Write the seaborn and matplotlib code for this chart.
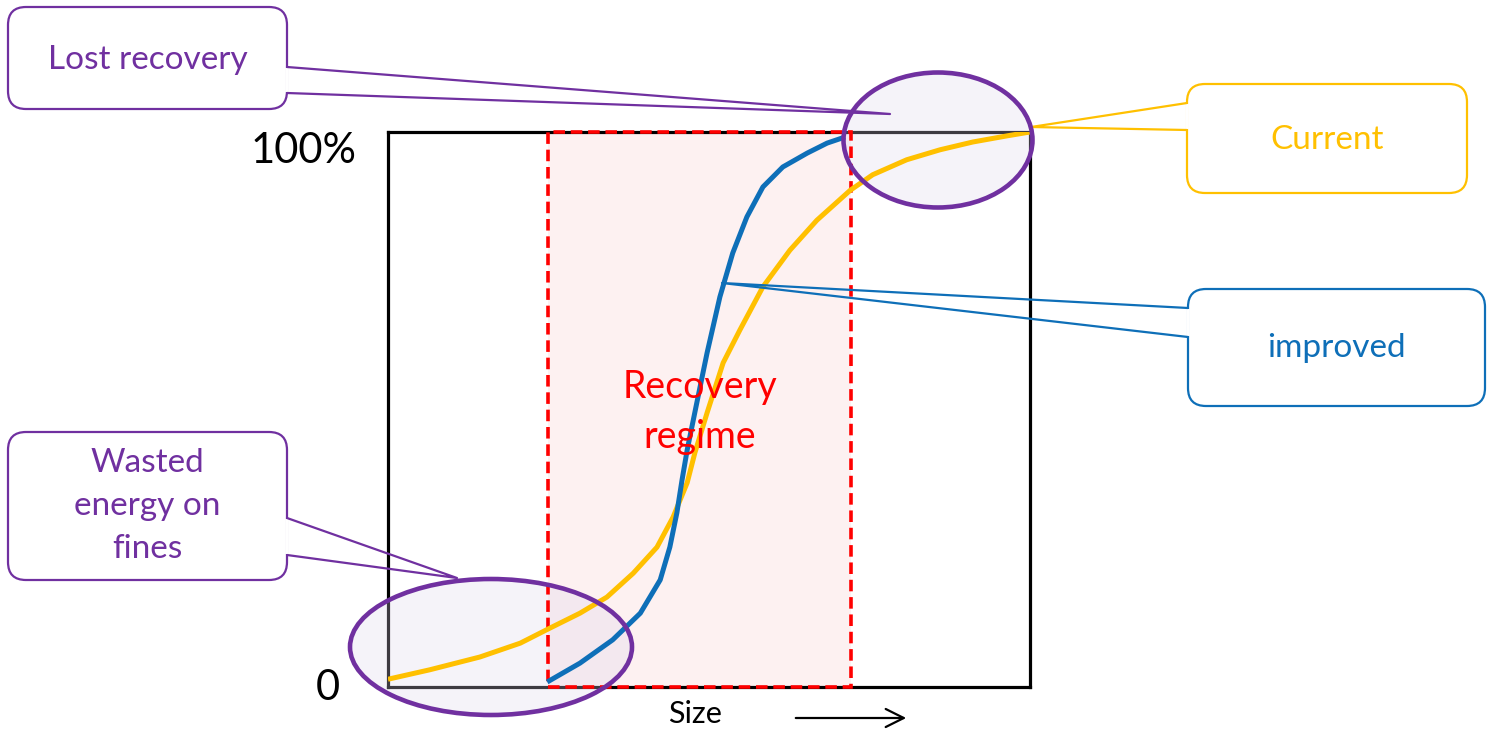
import numpy as np
import pandas as pd
import matplotlib
matplotlib.use("Agg")
import matplotlib.pyplot as plt
from matplotlib.patches import Ellipse, Rectangle, FancyBboxPatch, FancyArrowPatch
import seaborn as sns

# ---------------- data (size fraction 0..1, recovery %) ----------------
current_size = [0.0, 0.065, 0.143, 0.206, 0.252, 0.299, 0.341, 0.382, 0.419, 0.444,
                0.466, 0.478, 0.497, 0.522, 0.548, 0.584, 0.626, 0.668, 0.720, 0.755,
                0.808, 0.860, 0.911, 0.964, 1.0]
current_rec = [1.4, 3.1, 5.4, 7.9, 10.6, 13.3, 16.2, 20.5, 25.2, 30.6,
               36.8, 42.2, 49.4, 58.4, 64.3, 72.1, 78.7, 84.1, 89.5, 92.3,
               95.0, 96.8, 98.2, 99.3, 100.0]
improved_size = [0.248, 0.299, 0.350, 0.393, 0.424, 0.439, 0.450, 0.458, 0.466, 0.481,
                  0.497, 0.517, 0.537, 0.559, 0.584, 0.615, 0.653, 0.684, 0.712]
improved_rec = [0.9, 4.3, 8.5, 13.3, 19.3, 25.2, 31.4, 37.3, 42.7, 51.2,
                60.2, 70.3, 78.2, 84.7, 90.1, 93.7, 96.2, 98.0, 99.1]
regime_range = [0.249, 0.721]   # recovery regime (size fraction)
y_labels = ["0", "100%"]

YELLOW = "#FFC000"
BLUE = "#0E6FB8"
PURPLE = "#7030A0"
RED = "#FF0000"

sns.set_theme(style="white")
plt.rcParams["font.family"] = ["Lato", "DejaVu Sans"]

W, H = 1487, 731
fig = plt.figure(figsize=(W / 100, H / 100), dpi=100)
fig.patch.set_facecolor("white")

# main axes = the plot box
ax = fig.add_axes([388 / W, (H - 687) / H, 642 / W, 555 / H], zorder=1)
ax.set_xlim(0, 1)
ax.set_ylim(0, 100)
ax.set_xticks([])
ax.set_yticks([])
for s in ax.spines.values():
    s.set_visible(True)
    s.set_color("black")
    s.set_linewidth(2.3)
    s.set_zorder(2)
ax.set_facecolor("none")

# overlay axes in pixel coordinates
ov = fig.add_axes([0, 0, 1, 1], zorder=2)
ov.set_xlim(0, W)
ov.set_ylim(H, 0)
ov.axis("off")
ov.patch.set_alpha(0)

# recovery regime rectangle
ax.add_patch(Rectangle((regime_range[0], 0), regime_range[1] - regime_range[0], 100,
                       facecolor="#FDF1F1", edgecolor="none", zorder=1))
ax.add_patch(Rectangle((regime_range[0], 0), regime_range[1] - regime_range[0], 100,
                       facecolor="none", edgecolor=RED, lw=2.6, linestyle=(0, (3.2, 1.6)),
                       zorder=3, clip_on=False))

# ellipses: fills under curves, edges above
ellipses = [((938, 140), 189, 135), ((491, 647), 282, 136)]
for (cx, cy), w, h in ellipses:
    ax.add_patch(Ellipse((cx, cy), w, h, transform=ov.transData, facecolor="#DCD4EC",
                         alpha=0.28, edgecolor="none", zorder=2.5, clip_on=False))
    ov.add_patch(Ellipse((cx, cy), w, h, facecolor="none", edgecolor=PURPLE, lw=3.3, zorder=5))

# curves
df = pd.concat([
    pd.DataFrame({"size": current_size, "rec": current_rec, "series": "Current"}),
    pd.DataFrame({"size": improved_size, "rec": improved_rec, "series": "improved"}),
])
sns.lineplot(data=df, x="size", y="rec", hue="series", palette={"Current": YELLOW, "improved": BLUE},
             sort=False, estimator=None, lw=3.6, ax=ax, legend=False, zorder=4)
for l in ax.lines:
    l.set_solid_capstyle("butt")
    l.set_solid_joinstyle("round")
ax.set_xlabel("")
ax.set_ylabel("")
ax.set_xlim(0, 1)
ax.set_ylim(0, 100)

# axis texts
ov.text(357, 151, y_labels[1], ha="right", va="center", fontsize=30, color="black")
ov.text(340, 688, y_labels[0], ha="right", va="center", fontsize=30, color="black")
ov.text(695, 714, "Size", ha="center", va="center", fontsize=22, color="black")
ov.add_patch(FancyArrowPatch((793, 718), (909, 718), arrowstyle="->,head_length=13,head_width=6.5",
                             color="black", lw=1.6, mutation_scale=1))
ov.text(700, 412, "Recovery\nregime", ha="center", va="center", fontsize=27, color=RED,
        linespacing=1.45, zorder=6)


def callout(x0, y0, x1, y1, color, text, side, n1, n2, tip, ty, fs=24, ls=1.2):
    box = FancyBboxPatch((x0, y0), x1 - x0, y1 - y0, boxstyle="round,pad=0,rounding_size=18",
                         facecolor="white", edgecolor=color, lw=1.6, zorder=3)
    ov.add_patch(box)
    ex = x1 if side == "right" else x0
    ov.plot([ex, ex], [n1 + 0.8, n2 - 0.8], color="white", lw=2.6, zorder=3.5, solid_capstyle="butt")
    ov.plot([ex, tip[0], ex], [n1, tip[1], n2], color=color, lw=1.6, zorder=3.6)
    ov.text((x0 + x1) / 2, ty, text, ha="center", va="center", fontsize=fs,
            color=color, linespacing=ls, zorder=4)


callout(8, 7, 287, 109, PURPLE, "Lost recovery", "right", 67, 93, (890, 114), 60)
callout(8, 432, 287, 580, PURPLE, "Wasted\nenergy on\nfines", "right", 518, 555, (457, 578), 506,
        ls=1.55)
callout(1187, 84, 1467, 193, YELLOW, "Current", "left", 103, 130, (1031, 127), 140)
callout(1188, 289, 1485, 406, BLUE, "improved", "left", 308, 337, (722, 283), 348)

fig.savefig("out.png", dpi=100)
